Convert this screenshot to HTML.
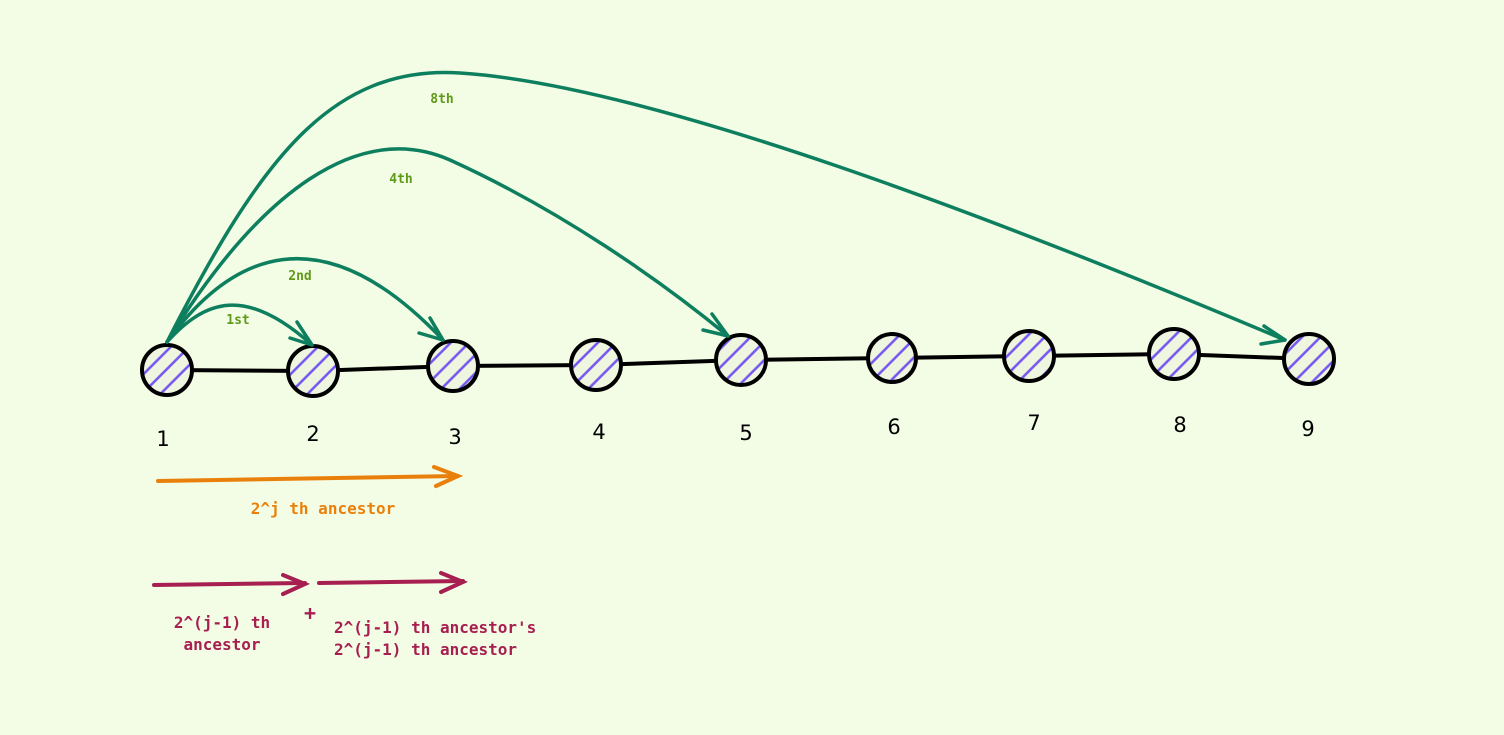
<!DOCTYPE html>
<html><head><style>body{margin:0;background:#f3fce4}svg{display:block}</style></head><body>
<svg width="1504" height="735" xmlns="http://www.w3.org/2000/svg">
<defs>
<pattern id="h" width="13" height="13" patternUnits="userSpaceOnUse" patternTransform="rotate(45)"><rect width="13" height="13" fill="#eef6e0"/><line x1="2" y1="0" x2="2" y2="13" stroke="#7455f0" stroke-width="2.5"/></pattern>
</defs>
<rect width="1504" height="735" fill="#f3fce4"/>
<g stroke="#000" stroke-width="4" fill="none">
<polyline points="167,370 313,371 453,366 596,365 741,360 892,358 1029,356 1174,354 1309,359"/>
</g>
<g stroke="#000" stroke-width="4" fill="url(#h)">
<circle cx="167" cy="370" r="25"/><circle cx="313" cy="371" r="25"/><circle cx="453" cy="366" r="25"/>
<circle cx="596" cy="365" r="25"/><circle cx="741" cy="360" r="25"/><circle cx="892" cy="358" r="24"/>
<circle cx="1029" cy="356" r="25"/><circle cx="1174" cy="354" r="25"/><circle cx="1309" cy="359" r="25"/>
</g>
<g font-family="DejaVu Sans, sans-serif" font-size="21" fill="#000" text-anchor="middle">
<text x="163" y="446">1</text><text x="313" y="441">2</text><text x="455" y="444">3</text><text x="599" y="439">4</text>
<text x="746" y="440">5</text><text x="894" y="434">6</text><text x="1034" y="430">7</text><text x="1180" y="432">8</text><text x="1308" y="436">9</text>
</g>
<g stroke="#0d7f5f" stroke-width="3.5" fill="none" stroke-linecap="round" stroke-linejoin="round">
<path d="M167,342 C205,300 245,285 312,345"/><path d="M297,322 L312,345 L290,338"/>
<path d="M167,342 C230,255 320,210 443,340"/><path d="M430,318 L443,340 L419,333"/>
<path d="M167,342 C260,190 360,120 450,160 C560,210 660,280 728,336"/><path d="M712,314 L728,336 L703,330"/>
<path d="M167,342 C260,160 330,65 460,73 C650,85 1000,220 1285,340"/><path d="M1264,326 L1285,340 L1261,344"/>
</g>
<g font-family="DejaVu Sans Mono, monospace" font-size="13" font-weight="bold" fill="#5f9a18" text-anchor="middle">
<text x="238" y="324">1st</text><text x="300" y="280">2nd</text><text x="401" y="183">4th</text><text x="442" y="103">8th</text>
</g>
<g stroke="#ea800c" stroke-width="4" fill="none" stroke-linecap="round">
<path d="M158,481 L458,476"/><path d="M434,467 L458,476 L436,486"/>
</g>
<text x="323" y="514" font-family="DejaVu Sans Mono, monospace" font-size="16" font-weight="bold" fill="#ea800c" text-anchor="middle">2^j th ancestor</text>
<g stroke="#a61f50" stroke-width="4" fill="none" stroke-linecap="round">
<path d="M154,585 L305,583"/><path d="M283,575 L305,584 L283,594"/>
<path d="M319,583 L463,581"/><path d="M441,573 L463,582 L441,592"/>
</g>
<g font-family="DejaVu Sans Mono, monospace" font-size="16" font-weight="bold" fill="#a61f50">
<text x="222" y="628" text-anchor="middle">2^(j-1) th</text>
<text x="222" y="650" text-anchor="middle">ancestor</text>
<text x="310" y="620" text-anchor="middle" font-size="20">+</text>
<text x="334" y="633">2^(j-1) th ancestor's</text>
<text x="334" y="655">2^(j-1) th ancestor</text>
</g>
</svg>
</body></html>
